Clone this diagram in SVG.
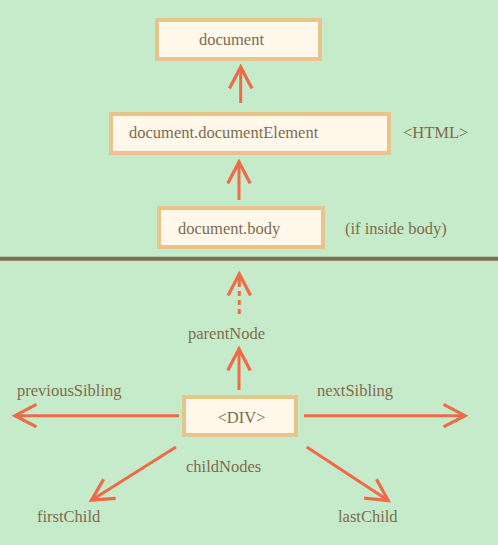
<svg xmlns="http://www.w3.org/2000/svg" width="498" height="545" viewBox="0 0 498 545">
<defs>
<style>
.box{fill:#FFF8EB;stroke:#E8C48A;stroke-width:4}
.t{font-family:"Liberation Serif","Times New Roman",serif;font-size:16.5px;fill:#7E6B4E}
.c{stroke:#EE6B47;stroke-width:3;fill:none}
</style>
<marker id="ah" markerUnits="userSpaceOnUse" markerWidth="30" markerHeight="30" viewBox="-24 -14 28 28" refX="0" refY="0" orient="auto">
<path d="M-20,-10.5 L0,0 L-20,10.5" fill="none" stroke="#EE6B47" stroke-width="3"/>
</marker>
</defs>
<rect width="498" height="545" fill="#C6EBCA"/>
<line x1="0" y1="258.7" x2="498" y2="258.7" stroke="#7F6E4E" stroke-width="4"/>
<g id="connectors">
<line class="c" x1="240.7" y1="103" x2="240.7" y2="67" marker-end="url(#ah)"/>
<line class="c" x1="239" y1="200" x2="239" y2="162" marker-end="url(#ah)"/>
<line class="c" x1="239.3" y1="314" x2="239.3" y2="283" stroke-dasharray="5,4"/>
<line class="c" x1="239.3" y1="284" x2="239.3" y2="274" marker-end="url(#ah)"/>
<line class="c" x1="239" y1="390" x2="239" y2="349" marker-end="url(#ah)"/>
<line class="c" x1="179" y1="415.7" x2="15" y2="415.7" marker-end="url(#ah)"/>
<line class="c" x1="304" y1="415.7" x2="465" y2="415.7" marker-end="url(#ah)"/>
<line class="c" x1="176" y1="447" x2="91.5" y2="500.2" marker-end="url(#ah)"/>
<line class="c" x1="306.7" y1="447" x2="388.2" y2="500.5" marker-end="url(#ah)"/>
</g>
<g id="document">
<rect class="box" x="157" y="20" width="163" height="39"/>
<text class="t" x="231.5" y="45" text-anchor="middle">document</text>
</g>
<g id="documentElement">
<rect class="box" x="111" y="114" width="278" height="39"/>
<text class="t" x="129" y="138">document.documentElement</text>
</g>
<text class="t" x="403" y="138">&lt;HTML&gt;</text>
<g id="body">
<rect class="box" x="159" y="208" width="164" height="39"/>
<text class="t" x="178" y="234">document.body</text>
</g>
<text class="t" x="345" y="234">(if inside body)</text>
<text class="t" x="188" y="339">parentNode</text>
<g id="div">
<rect class="box" x="184" y="397" width="112" height="38"/>
<text class="t" x="241.5" y="423" text-anchor="middle">&lt;DIV&gt;</text>
</g>
<text class="t" x="17" y="396">previousSibling</text>
<text class="t" x="317" y="396">nextSibling</text>
<text class="t" x="186" y="472">childNodes</text>
<text class="t" x="37" y="522">firstChild</text>
<text class="t" x="338" y="522">lastChild</text>
</svg>
